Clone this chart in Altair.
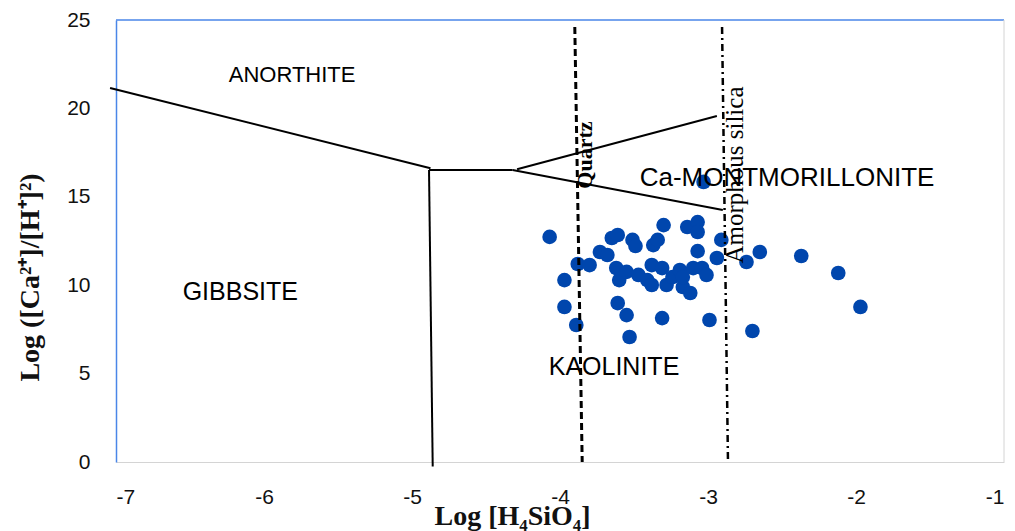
import altair as alt
import pandas as pd

# Water samples: log activity of dissolved silica vs log([Ca2+]/[H+]^2)
log_h4sio4 = [-4.07, -3.97, -3.97, -3.89, -3.88, -3.80, -3.73, -3.68, -3.65, -3.61,
              -3.51, -3.49, -3.37, -3.34, -3.30, -3.14, -3.07, -3.07, -2.91, -3.07,
              -2.94, -2.74, -2.65, -2.37, -2.12, -1.97, -2.70, -3.62, -3.60, -3.55,
              -3.47, -3.41, -3.38, -3.38, -3.31, -3.28, -3.24, -3.19, -3.17, -3.12,
              -3.10, -3.04, -3.01, -3.61, -3.55, -3.53, -3.31, -2.99, -3.03, -3.17]
log_ca_h2 = [12.73, 10.29, 8.77, 7.75, 11.20, 11.14, 11.88, 11.71, 12.67, 12.84,
             12.56, 12.22, 12.27, 12.56, 13.40, 13.29, 13.57, 13.01, 12.56, 11.93,
             11.54, 11.31, 11.88, 11.65, 10.69, 8.77, 7.41, 10.97, 10.29, 10.75,
             10.58, 10.29, 10.01, 11.14, 10.97, 10.01, 10.46, 10.86, 9.90, 9.56,
             10.97, 10.97, 10.58, 8.99, 8.31, 7.07, 8.14, 8.03, 15.84, 10.46]

# Stability-field boundaries, one straight segment per entry
bound_x1 = [-7.04, -4.885, -4.885, -4.29, -4.32]
bound_y1 = [21.15, 16.52, 16.52, 16.56, 16.52]
bound_x2 = [-4.875, -4.86, -4.32, -2.94, -2.90]
bound_y2 = [16.62, -0.25, 16.52, 19.57, 14.25]

# Saturation lines for quartz and amorphous silica
quartz_x = [-3.90, -3.85]
quartz_y = [24.6, 0.0]
amorph_x = [-2.905, -2.865]
amorph_y = [24.6, 0.0]

# Mineral field names
field_names = ["ANORTHITE", "GIBBSITE", "KAOLINITE", "Ca-MONTMORILLONITE"]
field_x = [-5.81, -6.16, -3.635, -2.466]
field_y = [21.89, 9.62, 5.37, 16.06]
field_size = [22, 25, 25, 26]

x_ticks = [-7, -6, -5, -4, -3, -2, -1]
y_ticks = [0, 5, 10, 15, 20, 25]

W, H = 888, 442
BLUE = "#4a86e8"
GRAY = "#d4d4d4"
POINT = "#0046ad"

samples = pd.DataFrame({"x": log_h4sio4, "y": log_ca_h2})
bounds = pd.DataFrame({"x": bound_x1, "y": bound_y1, "x2": bound_x2, "y2": bound_y2})
quartz = pd.DataFrame({"x": [quartz_x[0]], "y": [quartz_y[0]],
                       "x2": [quartz_x[1]], "y2": [quartz_y[1]]})
amorph = pd.DataFrame({"x": [amorph_x[0]], "y": [amorph_y[0]],
                       "x2": [amorph_x[1]], "y2": [amorph_y[1]]})
fields = pd.DataFrame({"name": field_names, "x": field_x, "y": field_y,
                       "fs": field_size})
line_labels = pd.DataFrame({
    "name": ["Quartz", "Amorphous silica"],
    "x": [-3.831, -2.816],
    "y": [17.36, 16.23],
})

neg_label = "datum.value < 0 ? '-' + abs(datum.value) : '' + datum.value"

x_scale = alt.Scale(domain=[-7, -1], nice=False, zero=False)
y_scale = alt.Scale(domain=[0, 25], nice=False, zero=False)

x_axis = alt.Axis(
    values=x_ticks, labelExpr=neg_label, ticks=False, grid=False,
    domainColor=GRAY, domainWidth=1,
    labelFont="Liberation Sans", labelFontSize=21, labelColor="#111",
    labelPadding=24,
    title="Log [H₄SiO₄]", titleFont="Liberation Serif", titleFontWeight="bold",
    titleFontSize=28, titleColor="#111", titleX=396, titleY=62,
    titleAlign="center", titleBaseline="alphabetic",
)
y_axis = alt.Axis(
    values=y_ticks, labelExpr=neg_label, ticks=False, grid=False,
    domainColor=BLUE, domainWidth=1.5,
    labelFont="Liberation Sans", labelFontSize=21, labelColor="#111",
    labelPadding=26,
    title="Log ([Ca²⁺]/[H⁺]²)", titleFont="Liberation Serif",
    titleFontWeight="bold", titleFontSize=28, titleColor="#111",
    titleX=-86, titleY=257, titleAngle=-90,
    titleAlign="center", titleBaseline="middle",
)

pts = alt.Chart(samples).mark_circle(size=215, color=POINT, opacity=1).encode(
    x=alt.X("x:Q", scale=x_scale, axis=x_axis),
    y=alt.Y("y:Q", scale=y_scale, axis=y_axis),
)

top_edge = alt.Chart(pd.DataFrame({"k": [0]})).mark_rule(
    color=BLUE, strokeWidth=1.5
).encode(x=alt.value(0), x2=alt.value(W), y=alt.value(0))
right_edge = alt.Chart(pd.DataFrame({"k": [0]})).mark_rule(
    color=GRAY, strokeWidth=1
).encode(x=alt.value(W), y=alt.value(0), y2=alt.value(H))

boundary = alt.Chart(bounds).mark_rule(color="black", strokeWidth=2).encode(
    x=alt.X("x:Q", scale=x_scale), y=alt.Y("y:Q", scale=y_scale),
    x2="x2:Q", y2="y2:Q",
)
quartz_line = alt.Chart(quartz).mark_rule(
    color="black", strokeWidth=3, strokeDash=[7, 4]
).encode(
    x=alt.X("x:Q", scale=x_scale), y=alt.Y("y:Q", scale=y_scale),
    x2="x2:Q", y2="y2:Q",
)
amorph_line = alt.Chart(amorph).mark_rule(
    color="black", strokeWidth=2.5, strokeDash=[7, 4, 2, 4]
).encode(
    x=alt.X("x:Q", scale=x_scale), y=alt.Y("y:Q", scale=y_scale),
    x2="x2:Q", y2="y2:Q",
)

field_text = alt.Chart(fields).mark_text(
    font="Liberation Sans", color="black",
    align="center", baseline="middle",
).encode(
    x=alt.X("x:Q", scale=x_scale), y=alt.Y("y:Q", scale=y_scale),
    text="name:N", size=alt.Size("fs:Q", scale=None, legend=None),
)
quartz_text = alt.Chart(line_labels.iloc[[0]]).mark_text(
    font="Liberation Serif", fontSize=22, fontWeight="bold", color="black",
    angle=270, align="center", baseline="middle",
).encode(
    x=alt.X("x:Q", scale=x_scale), y=alt.Y("y:Q", scale=y_scale), text="name:N"
)
amorph_text = alt.Chart(line_labels.iloc[[1]]).mark_text(
    font="Liberation Serif", fontSize=25, color="black",
    angle=270, align="center", baseline="middle",
).encode(
    x=alt.X("x:Q", scale=x_scale), y=alt.Y("y:Q", scale=y_scale), text="name:N"
)

chart = alt.layer(
    pts, top_edge, right_edge, boundary, quartz_line, amorph_line,
    field_text, quartz_text, amorph_text,
).properties(
    width=W, height=H,
    autosize=alt.AutoSizeParams(type="none"),
    padding={"left": 116, "top": 20, "right": 11, "bottom": 69},
    background="white",
).configure_view(stroke=None)

chart.save("out.html", embed_options={"renderer": "svg", "actions": False})
